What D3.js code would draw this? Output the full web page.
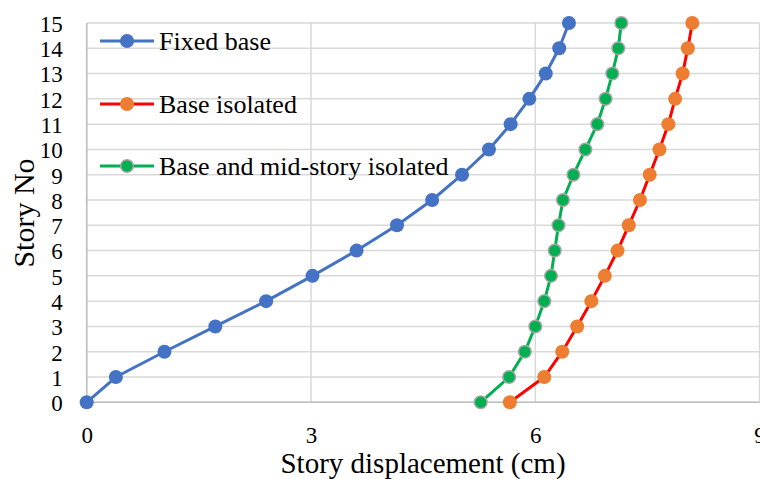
<!DOCTYPE html>
<html><head><meta charset="utf-8">
<script src="https://cdn.jsdelivr.net/npm/d3@7"></script>
<style>html,body{margin:0;padding:0;background:#fff;overflow:hidden}
svg text{font-family:"Liberation Serif","Times New Roman","DejaVu Serif",serif;}</style>
</head><body>
<svg id="c" width="760" height="479"></svg>
<script>
const stories = [0,1,2,3,4,5,6,7,8,9,10,11,12,13,14,15];
const fixedBase = [0,0.39,1.04,1.72,2.40,3.02,3.61,4.15,4.62,5.02,5.38,5.67,5.92,6.14,6.32,6.45];
const baseIsolated = [5.66,6.12,6.36,6.56,6.75,6.93,7.10,7.25,7.40,7.53,7.66,7.78,7.87,7.97,8.04,8.10];
const baseMidIsolated = [5.27,5.65,5.86,6.00,6.12,6.21,6.26,6.31,6.37,6.51,6.67,6.83,6.94,7.03,7.11,7.15];
const xTicks = [0,3,6,9];
const yTicks = stories;
const seriesNames = ["Fixed base","Base isolated","Base and mid-story isolated"];

const series = [
  {name:seriesNames[0], values:fixedBase, line:"#4472C4", fill:"#4472C4", stroke:"none"},
  {name:seriesNames[1], values:baseIsolated, line:"#FF0000", fill:"#ED7D31", stroke:"none"},
  {name:seriesNames[2], values:baseMidIsolated, line:"#00B050", fill:"#00B050", stroke:"#A5A5A5"}
];

const svg = d3.select("#c");
const x = d3.scaleLinear().domain([0,9]).range([86.7,759.6]);
const y = d3.scaleLinear().domain([0,15]).range([402.3,23]);

// grid
const g = svg.append("g");
g.selectAll(".hg").data(yTicks).join("line")
  .attr("x1",x(0)).attr("x2",x(9)).attr("y1",d=>y(d)).attr("y2",d=>y(d))
  .attr("stroke","#D9D9D9").attr("stroke-width",1.5);
g.selectAll(".vg").data(xTicks).join("line")
  .attr("x1",d=>x(d)).attr("x2",d=>x(d)).attr("y1",y(0)).attr("y2",y(15))
  .attr("stroke","#D9D9D9").attr("stroke-width",1.5);
g.append("line").attr("x1",x(0)).attr("x2",x(9)).attr("y1",y(0)).attr("y2",y(0))
  .attr("stroke","#BFBFBF").attr("stroke-width",1.5);
g.append("line").attr("x1",x(0)).attr("x2",x(0)).attr("y1",y(0)).attr("y2",y(15))
  .attr("stroke","#BFBFBF").attr("stroke-width",1.5);

// axes labels via d3 axes
const xAxis = svg.append("g").attr("transform",`translate(0,${y(0)})`)
  .call(d3.axisBottom(x).tickValues(xTicks).tickSize(0).tickPadding(0).tickFormat(d3.format("d")));
xAxis.attr("font-family",null).attr("font-size",null);
xAxis.select(".domain").remove();
xAxis.selectAll("text").style("font-size","23px").attr("fill","#000")
  .attr("dy",null).attr("y",41);

const yAxis = svg.append("g").attr("transform",`translate(${x(0)},0)`)
  .call(d3.axisLeft(y).tickValues(yTicks).tickSize(0).tickPadding(0).tickFormat(d3.format("d")));
yAxis.attr("font-family",null).attr("font-size",null);
yAxis.select(".domain").remove();
yAxis.selectAll("text").style("font-size","23px").attr("fill","#000")
  .attr("x",-24).attr("dy","0.36em").attr("text-anchor","end");

// titles
svg.append("text").attr("x",423).attr("y",473).attr("text-anchor","middle")
  .style("font-size","29px").attr("fill","#000").text("Story displacement (cm)");
svg.append("text").attr("transform","translate(34,213) rotate(-90)").attr("text-anchor","middle")
  .style("font-size","30px").attr("fill","#000").text("Story No");

// series
const line = d3.line().x(d=>x(d.v)).y(d=>y(d.s));
series.forEach(s=>{
  const pts = s.values.map((v,i)=>({v, s:stories[i]}));
  svg.append("path").datum(pts).attr("d",line).attr("fill","none")
    .attr("stroke",s.line).attr("stroke-width",3).attr("stroke-linejoin","round");
  svg.append("g").selectAll("circle").data(pts).join("circle")
    .attr("cx",d=>x(d.v)).attr("cy",d=>y(d.s)).attr("r",s.stroke==="none"?7:6.3)
    .attr("fill",s.fill).attr("stroke",s.stroke).attr("stroke-width",s.stroke==="none"?0:1.5);
});

// legend
const legY = [41,104,166];
series.forEach((s,i)=>{
  const lg = svg.append("g").attr("transform",`translate(0,${legY[i]})`);
  lg.append("line").attr("x1",100).attr("x2",154).attr("y1",0).attr("y2",0)
    .attr("stroke",s.line).attr("stroke-width",3);
  lg.append("circle").attr("cx",127).attr("cy",0).attr("r",s.stroke==="none"?7:6.3)
    .attr("fill",s.fill).attr("stroke",s.stroke).attr("stroke-width",s.stroke==="none"?0:1.5);
  lg.append("text").attr("x",159).attr("y",9).style("font-size","26px")
    .attr("fill","#000").text(s.name);
});
</script>
</body></html>
